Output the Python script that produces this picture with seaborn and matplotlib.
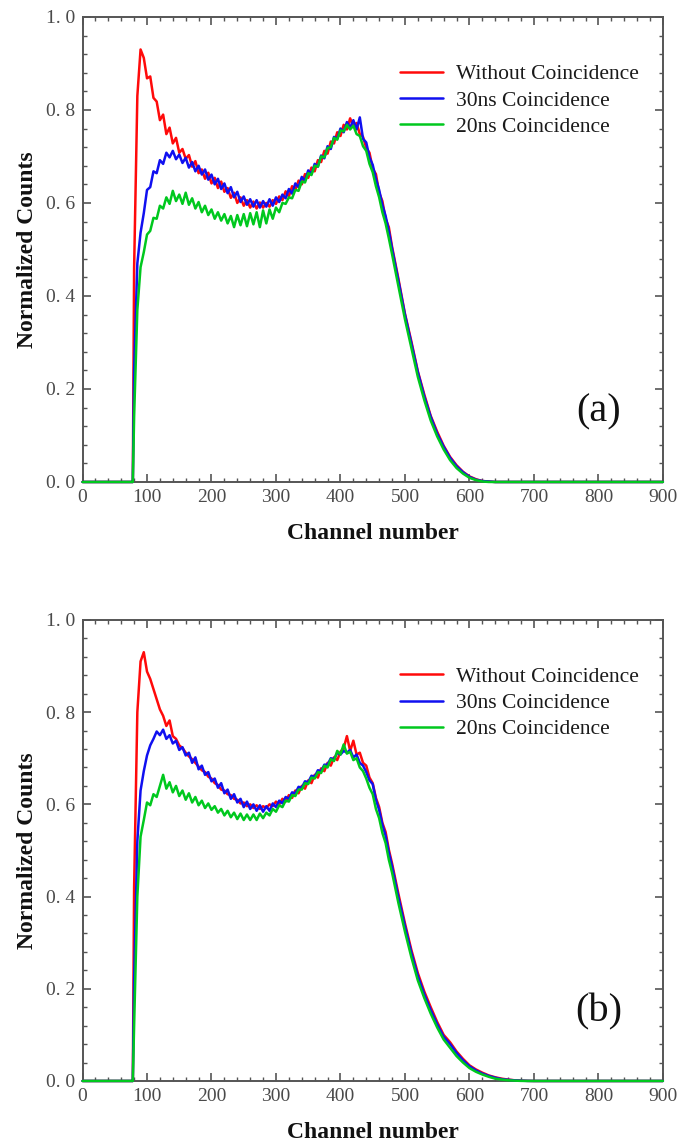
import numpy as np
import pandas as pd
import matplotlib
matplotlib.use("Agg")
import matplotlib.pyplot as plt
from matplotlib.ticker import MultipleLocator, FixedLocator, FixedFormatter
import seaborn as sns

# channel grid shared by every spectrum
channels = [0, 76, 78] + list(range(80, 480, 5)) + list(range(480, 720, 10)) + [900]

series_names = ["Without Coincidence", "30ns Coincidence", "20ns Coincidence"]
series_colors = ["#ff0a0a", "#1010f0", "#00c81e"]

# ---- panel (a) ----
red_a = [0, 0, 0,
         0.46, 0.83, 0.930, 0.912, 0.868, 0.872, 0.826, 0.818, 0.778, 0.790,
         0.748, 0.762, 0.728, 0.740, 0.708, 0.716, 0.695, 0.703, 0.678, 0.690,
         0.664, 0.672, 0.652, 0.665, 0.642, 0.654, 0.632, 0.646, 0.624, 0.632,
         0.611, 0.622, 0.600, 0.612, 0.594, 0.606, 0.590, 0.603, 0.588, 0.601,
         0.590, 0.600, 0.592, 0.606, 0.598, 0.614, 0.606, 0.625, 0.614, 0.636,
         0.628, 0.648, 0.640, 0.662, 0.654, 0.676, 0.668, 0.692, 0.688, 0.712,
         0.706, 0.732, 0.728, 0.752, 0.744, 0.768, 0.758, 0.782, 0.764, 0.772,
         0.748, 0.742, 0.718, 0.708, 0.674, 0.662, 0.622, 0.604, 0.566, 0.548,
         0.506, 0.436, 0.362, 0.302, 0.238, 0.188, 0.142, 0.108, 0.078, 0.054,
         0.036, 0.022, 0.012, 0.006, 0.002, 0.001, 0, 0, 0, 0, 0, 0, 0, 0,
         0]
blue_a = [0, 0, 0,
          0.24, 0.47, 0.536, 0.578, 0.628, 0.634, 0.668, 0.664, 0.692, 0.684,
          0.708, 0.698, 0.712, 0.694, 0.704, 0.686, 0.697, 0.676, 0.688, 0.668,
          0.680, 0.661, 0.672, 0.650, 0.661, 0.640, 0.652, 0.630, 0.642, 0.621,
          0.634, 0.612, 0.624, 0.602, 0.614, 0.596, 0.608, 0.592, 0.606, 0.590,
          0.604, 0.592, 0.608, 0.594, 0.612, 0.602, 0.618, 0.610, 0.630, 0.620,
          0.642, 0.634, 0.656, 0.648, 0.670, 0.662, 0.684, 0.678, 0.702, 0.696,
          0.722, 0.716, 0.742, 0.738, 0.760, 0.752, 0.774, 0.762, 0.778, 0.758,
          0.784, 0.738, 0.730, 0.698, 0.682, 0.652, 0.628, 0.596, 0.572, 0.540,
          0.502, 0.432, 0.360, 0.298, 0.236, 0.184, 0.140, 0.104, 0.076, 0.052,
          0.034, 0.021, 0.011, 0.005, 0.002, 0.001, 0, 0, 0, 0, 0, 0, 0, 0,
          0]
green_a = [0, 0, 0,
           0.14, 0.37, 0.462, 0.494, 0.532, 0.540, 0.568, 0.566, 0.594, 0.588,
           0.612, 0.598, 0.626, 0.604, 0.618, 0.598, 0.622, 0.596, 0.610, 0.588,
           0.602, 0.580, 0.594, 0.574, 0.586, 0.566, 0.580, 0.562, 0.576, 0.556,
           0.572, 0.548, 0.574, 0.552, 0.576, 0.550, 0.578, 0.554, 0.580, 0.548,
           0.584, 0.556, 0.586, 0.566, 0.590, 0.580, 0.600, 0.598, 0.612, 0.610,
           0.628, 0.626, 0.646, 0.644, 0.664, 0.660, 0.680, 0.678, 0.700, 0.698,
           0.718, 0.720, 0.740, 0.736, 0.756, 0.754, 0.768, 0.758, 0.766, 0.748,
           0.744, 0.722, 0.712, 0.684, 0.666, 0.636, 0.612, 0.580, 0.556, 0.524,
           0.490, 0.420, 0.350, 0.288, 0.226, 0.176, 0.132, 0.098, 0.070, 0.047,
           0.030, 0.018, 0.009, 0.004, 0.001, 0, 0, 0, 0, 0, 0, 0, 0, 0,
           0]

# ---- panel (b) ----
red_b = [0, 0, 0,
         0.42, 0.80, 0.910, 0.930, 0.888, 0.872, 0.850, 0.828, 0.806, 0.792,
         0.770, 0.782, 0.748, 0.742, 0.728, 0.722, 0.712, 0.704, 0.698, 0.690,
         0.682, 0.674, 0.670, 0.660, 0.656, 0.646, 0.642, 0.632, 0.630, 0.622,
         0.620, 0.612, 0.610, 0.602, 0.604, 0.596, 0.600, 0.592, 0.598, 0.590,
         0.596, 0.592, 0.600, 0.596, 0.606, 0.600, 0.612, 0.606, 0.620, 0.614,
         0.630, 0.624, 0.640, 0.634, 0.652, 0.646, 0.664, 0.658, 0.678, 0.672,
         0.690, 0.684, 0.702, 0.696, 0.714, 0.722, 0.748, 0.716, 0.738, 0.708,
         0.712, 0.690, 0.684, 0.658, 0.646, 0.614, 0.594, 0.560, 0.540, 0.502,
         0.472, 0.405, 0.342, 0.284, 0.234, 0.194, 0.160, 0.128, 0.100, 0.084,
         0.064, 0.048, 0.034, 0.025, 0.018, 0.012, 0.008, 0.005, 0.003, 0.0015,
         0.0008, 0.0003, 0, 0,
         0]
blue_b = [0, 0, 0,
          0.22, 0.52, 0.630, 0.672, 0.706, 0.728, 0.742, 0.758, 0.750, 0.762,
          0.742, 0.750, 0.732, 0.738, 0.718, 0.724, 0.706, 0.712, 0.690, 0.702,
          0.676, 0.684, 0.664, 0.670, 0.650, 0.656, 0.636, 0.646, 0.624, 0.632,
          0.612, 0.622, 0.604, 0.612, 0.594, 0.606, 0.590, 0.600, 0.586, 0.598,
          0.584, 0.596, 0.586, 0.602, 0.594, 0.608, 0.602, 0.616, 0.612, 0.626,
          0.624, 0.638, 0.636, 0.650, 0.648, 0.662, 0.660, 0.674, 0.672, 0.686,
          0.686, 0.700, 0.698, 0.712, 0.708, 0.716, 0.712, 0.718, 0.702, 0.708,
          0.690, 0.684, 0.670, 0.652, 0.644, 0.610, 0.588, 0.556, 0.532, 0.496,
          0.466, 0.398, 0.336, 0.278, 0.228, 0.188, 0.154, 0.123, 0.096, 0.080,
          0.061, 0.045, 0.032, 0.023, 0.016, 0.011, 0.007, 0.004, 0.0025, 0.0013,
          0.0006, 0.0002, 0, 0,
          0]
green_b = [0, 0, 0,
           0.12, 0.40, 0.530, 0.566, 0.604, 0.598, 0.622, 0.616, 0.640, 0.664,
           0.634, 0.648, 0.626, 0.640, 0.618, 0.630, 0.610, 0.624, 0.604, 0.616,
           0.598, 0.608, 0.592, 0.602, 0.588, 0.596, 0.582, 0.590, 0.576, 0.586,
           0.572, 0.582, 0.568, 0.580, 0.566, 0.578, 0.566, 0.578, 0.566, 0.580,
           0.570, 0.582, 0.576, 0.590, 0.584, 0.598, 0.594, 0.608, 0.606, 0.620,
           0.618, 0.632, 0.632, 0.646, 0.644, 0.658, 0.656, 0.670, 0.668, 0.684,
           0.680, 0.698, 0.694, 0.716, 0.708, 0.730, 0.710, 0.714, 0.696, 0.700,
           0.680, 0.672, 0.656, 0.636, 0.622, 0.590, 0.570, 0.538, 0.516, 0.480,
           0.452, 0.385, 0.324, 0.268, 0.218, 0.180, 0.146, 0.116, 0.090, 0.072,
           0.054, 0.040, 0.028, 0.020, 0.014, 0.009, 0.005, 0.003, 0.0015, 0.0007,
           0.0002, 0, 0, 0,
           0]

x_ticks = [0, 100, 200, 300, 400, 500, 600, 700, 800, 900]
y_ticks = [0.0, 0.2, 0.4, 0.6, 0.8, 1.0]
y_tick_labels = ["0. 0", "0. 2", "0. 4", "0. 6", "0. 8", "1. 0"]


def build_frame(red, blue, green):
    parts = []
    for name, vals in zip(series_names, [red, blue, green]):
        parts.append(pd.DataFrame({"Channel": channels, "Counts": vals, "Series": name}))
    return pd.concat(parts, ignore_index=True)


def draw_panel(ax, df, tag):
    sns.lineplot(data=df, x="Channel", y="Counts", hue="Series",
                 hue_order=series_names, palette=series_colors,
                 estimator=None, sort=False, linewidth=1.8, ax=ax)
    # let the zero baseline sit on top of the bottom spine like in the original
    for ln in ax.lines:
        ln.set_clip_on(False)
        ln.set_zorder(3)

    ax.set_xlim(0, 900)
    ax.set_ylim(0, 1.0)
    ax.xaxis.set_major_locator(FixedLocator(x_ticks))
    ax.xaxis.set_minor_locator(MultipleLocator(20))
    ax.yaxis.set_major_locator(FixedLocator(y_ticks))
    ax.yaxis.set_major_formatter(FixedFormatter(y_tick_labels))
    ax.yaxis.set_minor_locator(MultipleLocator(0.04))
    ax.tick_params(which="both", direction="in", top=True, right=True,
                   colors="#555555", labelcolor="#4a4a4a", labelsize=14)
    ax.tick_params(which="major", length=6, width=1.2, pad=5)
    ax.tick_params(which="minor", length=3, width=1.0)
    for sp in ax.spines.values():
        sp.set_color("#555555")
        sp.set_linewidth(1.4)

    ax.set_xlabel("Channel number", fontsize=17, fontweight="bold", labelpad=12,
                  color="#111111")
    ax.set_ylabel("Normalized Counts", fontsize=17, fontweight="bold", labelpad=6,
                  color="#111111")

    ax.legend(loc="upper left", bbox_to_anchor=(0.547, 0.898), frameon=False,
              fontsize=15.5, handlelength=2.0, handletextpad=0.6,
              labelspacing=0.28, borderpad=0, borderaxespad=0,
              labelcolor="#1a1a1a")
    ax.text(800, 0.15, tag, fontsize=29, ha="center", va="center", color="#111111")


sns.set_style("ticks")
plt.rcParams["font.family"] = ["Liberation Serif", "DejaVu Serif"]

fig = plt.figure(figsize=(6.86, 11.44), dpi=100)
ax_a = fig.add_axes([0.1203, 0.5787, 0.846, 0.4065])
ax_b = fig.add_axes([0.1203, 0.0551, 0.846, 0.403])

draw_panel(ax_a, build_frame(red_a, blue_a, green_a), "(a)")
draw_panel(ax_b, build_frame(red_b, blue_b, green_b), "(b)")

fig.savefig("out.png", dpi=100)
